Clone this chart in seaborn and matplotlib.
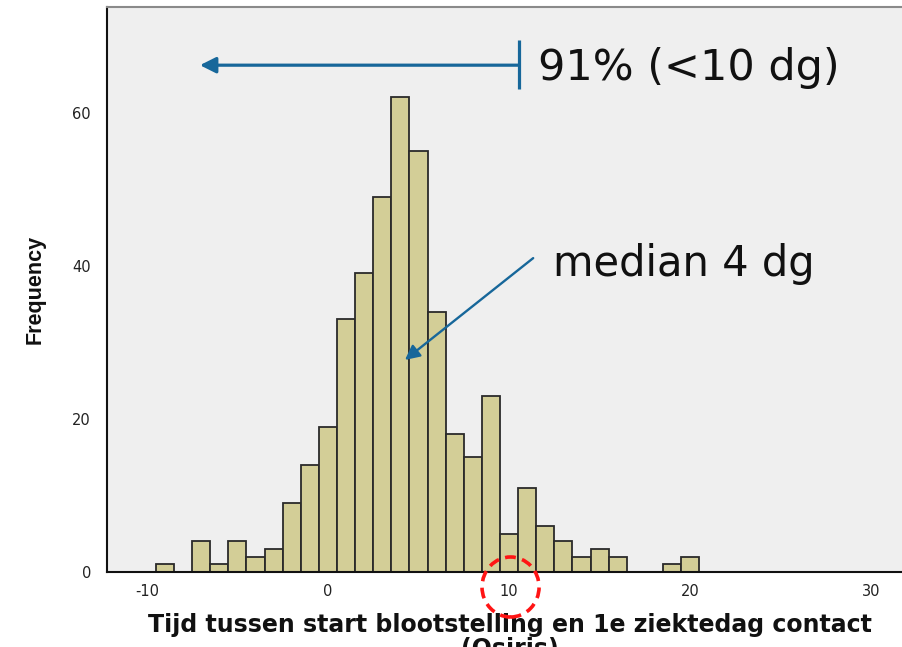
import numpy as np
import pandas as pd
import matplotlib
matplotlib.use("Agg")
import matplotlib.pyplot as plt
from matplotlib.patches import Ellipse
import seaborn as sns

# ---- data ----
days = [-9, -8, -7, -6, -5, -4, -3, -2, -1, 0, 1, 2, 3, 4, 5, 6, 7, 8, 9, 10,
        11, 12, 13, 14, 15, 16, 17, 18, 19, 20]
counts = [1, 0, 4, 1, 4, 2, 3, 9, 14, 19, 33, 39, 49, 62, 55, 34, 18, 15, 23, 5,
          11, 6, 4, 2, 3, 2, 0, 0, 1, 2]
x_ticks = [-10, 0, 10, 20, 30]
y_ticks = [0, 20, 40, 60]
x_label = "Tijd tussen start blootstelling en 1e ziektedag contact\n(Osiris)"
y_label = "Frequency"
note_91 = "91% (<10 dg)"
note_median = "median 4 dg"

df = pd.DataFrame({"dag": days, "n": counts})

sns.set_style("white")
plt.rcParams["font.family"] = ["DejaVu Sans"]
plt.rcParams["axes.unicode_minus"] = False

W, H = 902, 647
fig = plt.figure(figsize=(W / 100, H / 100), dpi=100)
fig.patch.set_facecolor("white")
ax = fig.add_axes([107 / W, (H - 572) / H, (913 - 107) / W, (572 - 7) / H])
ax.set_facecolor("#EFEFEF")

sns.histplot(data=df, x="dag", weights="n", discrete=True, ax=ax,
             color="#D3CE97", edgecolor="#2A2A2A", linewidth=1.3, alpha=1.0)

ax.set_xlim(-12.2, 32.3)
ax.set_ylim(0, 73.8)
ax.set_xticks(x_ticks)
ax.set_yticks(y_ticks)
ax.tick_params(axis="y", direction="out", length=9.5, width=1.0, pad=2,
               labelsize=10.5, labelcolor="#222222", color="#222222")
ax.tick_params(axis="x", direction="out", length=4.5, width=1.3, pad=4,
               labelsize=10.5, labelcolor="#222222", color="#222222")

for s in ["left", "bottom"]:
    ax.spines[s].set_color("#111111")
    ax.spines[s].set_linewidth(1.5)
ax.spines["top"].set_color("#8A8A8A")
ax.spines["top"].set_linewidth(1.5)
ax.spines["right"].set_visible(False)

ax.set_xlabel(x_label, fontsize=17, fontweight="bold", labelpad=10,
              linespacing=1.0, color="#111111")
ax.set_ylabel(y_label, fontsize=15.5, fontweight="bold", labelpad=19,
              family=["Liberation Sans Narrow", "Liberation Sans"], color="#111111")

blue = "#17679A"
# 91% arrow
ax.annotate("", xy=(-7.07, 66.2), xytext=(10.55, 66.2),
            arrowprops=dict(arrowstyle="-|>", color=blue, lw=2.3,
                            mutation_scale=24, shrinkA=0, shrinkB=0))
ax.vlines(10.55, 63.1, 69.5, color=blue, lw=2.3)
ax.text(11.6, 64.3, note_91, fontsize=31, va="baseline", ha="left", color="#111111")

# median arrow
ax.annotate("", xy=(4.25, 27.7), xytext=(11.33, 41.0),
            arrowprops=dict(arrowstyle="-|>", color=blue, lw=1.7,
                            mutation_scale=22, shrinkA=0, shrinkB=0))
ax.text(12.43, 38.7, note_median, fontsize=30, va="baseline", ha="left", color="#111111")

# red dashed circle around tick label 10
ell = Ellipse((10.08, -1.96), width=3.15, height=7.84, fill=False,
              edgecolor="#FF1414", lw=2.6, linestyle=(0, (3, 1.8)),
              clip_on=False, zorder=10)
ax.add_patch(ell)

fig.savefig("out.png", dpi=100)
